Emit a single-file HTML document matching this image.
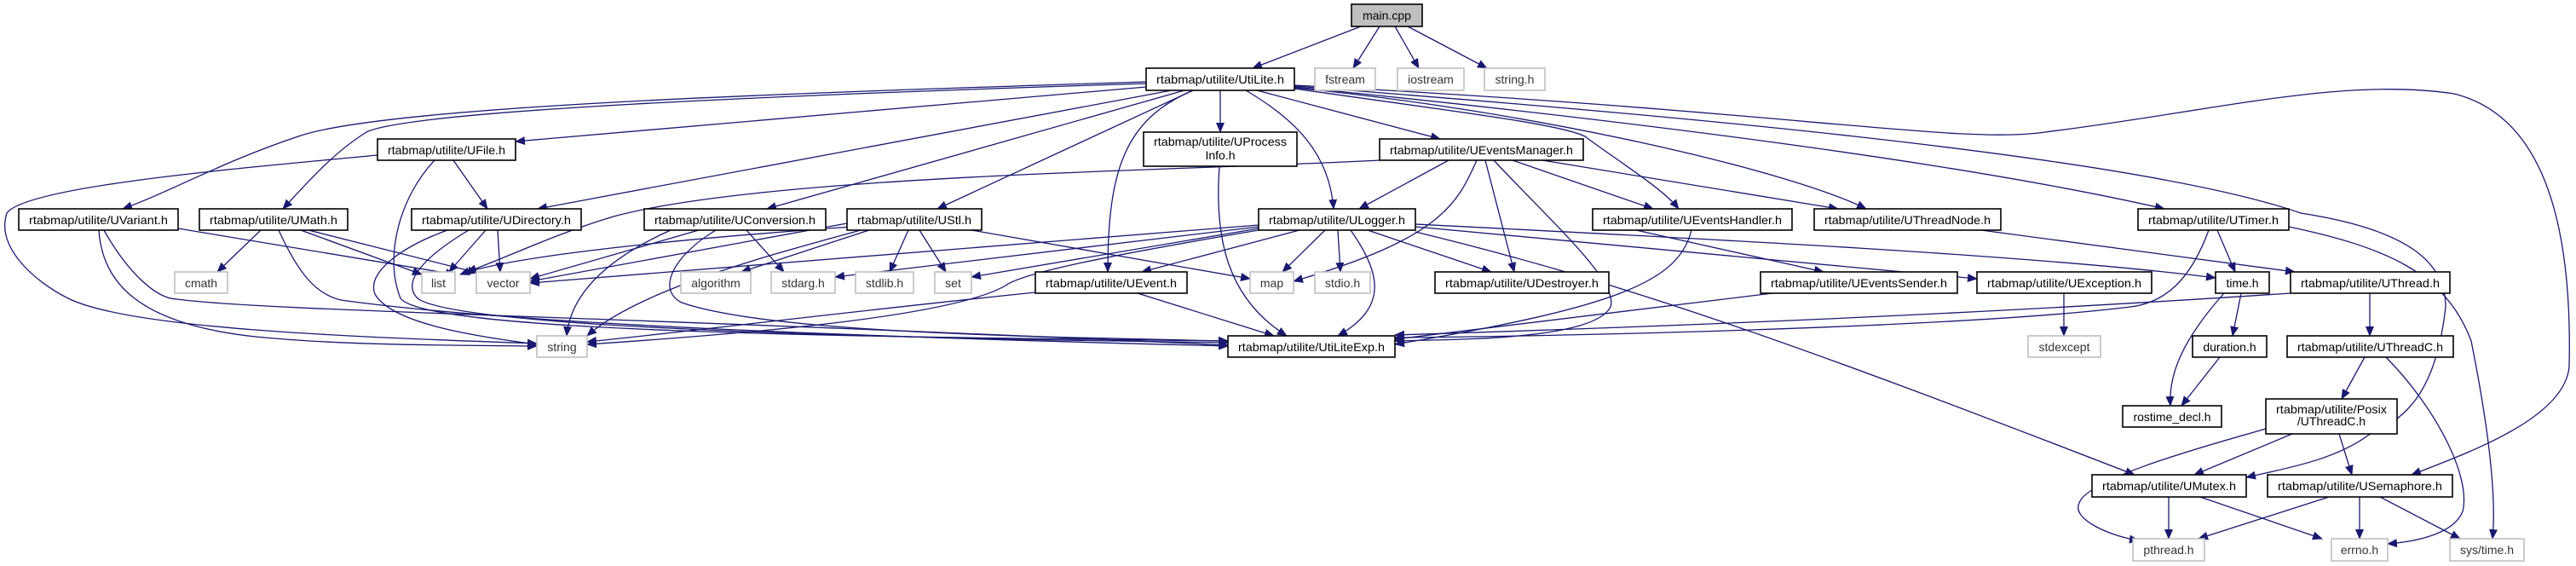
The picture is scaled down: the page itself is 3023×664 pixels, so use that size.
<!DOCTYPE html>
<html><head><meta charset="utf-8"><style>
html,body{margin:0;padding:0;background:#fff;}
svg{display:block;}
text{font-family:"Liberation Sans","DejaVu Sans",sans-serif;font-size:14px;text-anchor:middle;fill:#000;}
.g text{fill:#333;}
.e path{fill:none;stroke:#191970;stroke-width:1.3;marker-end:url(#a);}
.n rect{fill:#fff;stroke:#000;stroke-width:1.6;}
.g rect{fill:#fff;stroke:#bfbfbf;stroke-width:1.6;}
</style></head><body>
<svg width="3023" height="664" viewBox="0 0 3023 664" xmlns="http://www.w3.org/2000/svg">
<defs><marker id="a" markerWidth="12" markerHeight="10" refX="11" refY="5" orient="auto" markerUnits="userSpaceOnUse"><path d="M0,0 L12,5 L0,10 z" fill="#191970"/></marker></defs>
<g class="e">
<path d="M1597,31 L1470,80"/>
<path d="M1619,31 L1588,80"/>
<path d="M1637,31 L1665,80"/>
<path d="M1652,31 L1745,80"/>
<path d="M1345,96 C900,110 450,125 350,160 C260,190 200,225 144,245"/>
<path d="M1345,98 C900,112 480,130 430,155 C390,180 360,215 332,245"/>
<path d="M1345,102 L605,166"/>
<path d="M1375,106 L631,245"/>
<path d="M1390,106 L900,245"/>
<path d="M1400,106 L1100,245"/>
<path d="M1400,106 C1320,140 1300,200 1300,319"/>
<path d="M1432,106 L1432,155"/>
<path d="M1462,106 C1520,140 1560,180 1565,245"/>
<path d="M1475,106 L1690,163"/>
<path d="M1519,104 C1700,130 1830,145 1860,160 C1900,190 1950,220 1970,245"/>
<path d="M1519,103 C1800,130 2100,200 2190,245"/>
<path d="M1519,102 C1900,140 2300,190 2540,245"/>
<path d="M1519,101 C1900,130 2500,180 2700,250 C2830,270 2870,310 2870,360 C2860,450 2830,490 2780,510 C2740,540 2680,550 2636,560"/>
<path d="M1519,100 C2100,130 2300,170 2400,155 C2600,130 2750,90 2880,110 C3000,140 3018,300 3015,430 C3010,490 2900,530 2830,557"/>
<path d="M443,182 C250,200 30,220 8,250 C-5,290 40,330 80,350 C150,385 400,395 630,403"/>
<path d="M510,188 C470,230 450,300 470,350 C500,390 1000,395 1441,400"/>
<path d="M532,188 L572,245"/>
<path d="M209,268 L534,322"/>
<path d="M116,270 C120,330 160,380 300,395 C400,405 520,405 630,406"/>
<path d="M122,270 C150,320 180,345 200,350 C300,365 700,370 1441,405"/>
<path d="M306,270 L255,319"/>
<path d="M353,270 L495,322"/>
<path d="M362,270 L560,320"/>
<path d="M327,270 C350,320 370,345 400,352 C600,380 1000,395 1441,406"/>
<path d="M570,270 L527,319"/>
<path d="M584,270 L587,319"/>
<path d="M525,270 C470,290 430,320 440,345 C460,380 560,395 630,404"/>
<path d="M550,270 C500,300 470,330 490,350 C530,380 900,395 1441,402"/>
<path d="M787,270 C720,300 670,340 665,394"/>
<path d="M820,270 L622,327"/>
<path d="M876,270 L920,319"/>
<path d="M840,270 C790,300 770,340 800,355 C900,390 1200,395 1441,400"/>
<path d="M994,262 L622,330"/>
<path d="M1000,266 C800,280 600,300 540,322"/>
<path d="M1010,270 C900,300 750,340 689,394"/>
<path d="M1020,270 L870,319"/>
<path d="M1066,270 L1044,319"/>
<path d="M1079,270 L1110,319"/>
<path d="M1140,270 L1467,327"/>
<path d="M1477,264 L622,332"/>
<path d="M1477,268 L1140,325"/>
<path d="M1477,266 L980,325"/>
<path d="M1477,270 C1300,300 1200,320 1180,335 C1120,370 900,390 689,404"/>
<path d="M1525,270 L1340,319"/>
<path d="M1555,270 L1505,319"/>
<path d="M1570,270 L1573,319"/>
<path d="M1585,270 C1620,320 1630,360 1570,394"/>
<path d="M1605,270 L1750,319"/>
<path d="M1661,272 C1900,330 2100,400 2505,557"/>
<path d="M1661,263 C2000,280 2400,300 2600,326"/>
<path d="M1661,266 L2320,327"/>
<path d="M1215,343 C1000,365 800,390 689,401"/>
<path d="M1335,344 L1495,394"/>
<path d="M1431,195 C1425,280 1440,350 1510,394"/>
<path d="M1700,188 L1595,245"/>
<path d="M1619,188 C1400,200 900,205 720,254 C650,275 600,300 548,319"/>
<path d="M1733,188 C1710,240 1690,280 1518,330"/>
<path d="M1743,188 L1777,319"/>
<path d="M1753,188 C1820,260 1900,330 1890,360 C1870,400 1700,398 1637,400"/>
<path d="M1775,188 L1940,245"/>
<path d="M1810,188 L2157,245"/>
<path d="M1920,270 L2140,319"/>
<path d="M1985,270 C1970,330 1900,360 1637,404"/>
<path d="M2080,344 L1637,398"/>
<path d="M2325,270 L2693,319"/>
<path d="M2602,270 L2623,319"/>
<path d="M2592,270 C2570,330 2540,355 2500,360 C2300,385 1800,395 1637,396"/>
<path d="M2686,266 C2800,290 2870,320 2900,400 C2920,500 2930,580 2925,632"/>
<path d="M2688,344 C2300,370 1900,385 1637,393"/>
<path d="M2781,344 L2781,394"/>
<path d="M2422,344 L2422,394"/>
<path d="M2630,344 L2620,394"/>
<path d="M2610,344 C2560,400 2545,440 2547,476"/>
<path d="M2605,419 L2560,476"/>
<path d="M2775,419 L2748,468"/>
<path d="M2800,419 C2860,480 2900,560 2890,600 C2880,625 2840,635 2802,638"/>
<path d="M2659,503 C2600,520 2450,560 2440,590 C2430,610 2480,630 2510,634"/>
<path d="M2690,509 L2575,557"/>
<path d="M2745,509 L2760,557"/>
<path d="M2545,583 L2545,632"/>
<path d="M2582,583 L2725,632"/>
<path d="M2733,583 L2580,632"/>
<path d="M2769,583 L2769,632"/>
<path d="M2793,583 L2887,632"/>
</g>
<!-- nodes -->
<g class="n">
<rect x="1586" y="5" width="83" height="26" style="fill:#bfbfbf"/><text x="1627.5" y="23">main.cpp</text>
<rect x="1345" y="80" width="174" height="26"/><text x="1432" y="98" textLength="150" lengthAdjust="spacingAndGlyphs">rtabmap/utilite/UtiLite.h</text>
<rect x="443" y="163" width="162" height="25"/><text x="524" y="181" textLength="138" lengthAdjust="spacingAndGlyphs">rtabmap/utilite/UFile.h</text>
<rect x="1342" y="155" width="180" height="40"/><text x="1432" y="171" textLength="156" lengthAdjust="spacingAndGlyphs">rtabmap/utilite/UProcess</text><text x="1432" y="187">Info.h</text>
<rect x="1619" y="163" width="239" height="25"/><text x="1738.5" y="181" textLength="215" lengthAdjust="spacingAndGlyphs">rtabmap/utilite/UEventsManager.h</text>
<rect x="22" y="245" width="187" height="25"/><text x="115.5" y="263" textLength="163" lengthAdjust="spacingAndGlyphs">rtabmap/utilite/UVariant.h</text>
<rect x="234" y="245" width="174" height="25"/><text x="321" y="263" textLength="150" lengthAdjust="spacingAndGlyphs">rtabmap/utilite/UMath.h</text>
<rect x="483" y="245" width="199" height="25"/><text x="582.5" y="263" textLength="175" lengthAdjust="spacingAndGlyphs">rtabmap/utilite/UDirectory.h</text>
<rect x="756" y="245" width="213" height="25"/><text x="862.5" y="263" textLength="189" lengthAdjust="spacingAndGlyphs">rtabmap/utilite/UConversion.h</text>
<rect x="994" y="245" width="158" height="25"/><text x="1073" y="263" textLength="134" lengthAdjust="spacingAndGlyphs">rtabmap/utilite/UStl.h</text>
<rect x="1477" y="245" width="184" height="25"/><text x="1569" y="263" textLength="160" lengthAdjust="spacingAndGlyphs">rtabmap/utilite/ULogger.h</text>
<rect x="1869" y="245" width="234" height="25"/><text x="1986" y="263" textLength="210" lengthAdjust="spacingAndGlyphs">rtabmap/utilite/UEventsHandler.h</text>
<rect x="2129" y="245" width="219" height="25"/><text x="2238.5" y="263" textLength="195" lengthAdjust="spacingAndGlyphs">rtabmap/utilite/UThreadNode.h</text>
<rect x="2509" y="245" width="177" height="25"/><text x="2597.5" y="263" textLength="153" lengthAdjust="spacingAndGlyphs">rtabmap/utilite/UTimer.h</text>
<rect x="1215" y="319" width="178" height="25"/><text x="1304" y="337" textLength="154" lengthAdjust="spacingAndGlyphs">rtabmap/utilite/UEvent.h</text>
<rect x="1684" y="319" width="204" height="25"/><text x="1786" y="337" textLength="180" lengthAdjust="spacingAndGlyphs">rtabmap/utilite/UDestroyer.h</text>
<rect x="2066" y="319" width="231" height="25"/><text x="2181.5" y="337" textLength="207" lengthAdjust="spacingAndGlyphs">rtabmap/utilite/UEventsSender.h</text>
<rect x="2320" y="319" width="205" height="25"/><text x="2422.5" y="337" textLength="181" lengthAdjust="spacingAndGlyphs">rtabmap/utilite/UException.h</text>
<rect x="2600" y="319" width="63" height="25"/><text x="2631.5" y="337">time.h</text>
<rect x="2688" y="319" width="187" height="25"/><text x="2781.5" y="337" textLength="163" lengthAdjust="spacingAndGlyphs">rtabmap/utilite/UThread.h</text>
<rect x="1441" y="394" width="196" height="25"/><text x="1539" y="412" textLength="172" lengthAdjust="spacingAndGlyphs">rtabmap/utilite/UtiLiteExp.h</text>
<rect x="2573" y="394" width="87" height="25"/><text x="2616.5" y="412">duration.h</text>
<rect x="2684" y="394" width="195" height="25"/><text x="2781.5" y="412" textLength="171" lengthAdjust="spacingAndGlyphs">rtabmap/utilite/UThreadC.h</text>
<rect x="2491" y="476" width="116" height="25"/><text x="2549" y="494">rostime_decl.h</text>
<rect x="2659" y="468" width="154" height="41"/><text x="2736" y="485" textLength="130" lengthAdjust="spacingAndGlyphs">rtabmap/utilite/Posix</text><text x="2736" y="499">/UThreadC.h</text>
<rect x="2455" y="557" width="181" height="26"/><text x="2545.5" y="575" textLength="157" lengthAdjust="spacingAndGlyphs">rtabmap/utilite/UMutex.h</text>
<rect x="2661" y="557" width="217" height="26"/><text x="2769.5" y="575" textLength="193" lengthAdjust="spacingAndGlyphs">rtabmap/utilite/USemaphore.h</text>
</g>
<g class="g">
<rect x="1543" y="80" width="71" height="26"/><text x="1578.5" y="98">fstream</text>
<rect x="1640" y="80" width="78" height="26"/><text x="1679" y="98">iostream</text>
<rect x="1742" y="80" width="71" height="26"/><text x="1777.5" y="98">string.h</text>
<rect x="205" y="319" width="62" height="25"/><text x="236" y="337">cmath</text>
<rect x="495" y="319" width="39" height="25"/><text x="514.5" y="337">list</text>
<rect x="559" y="319" width="63" height="25"/><text x="590.5" y="337">vector</text>
<rect x="799" y="319" width="82" height="25"/><text x="840" y="337">algorithm</text>
<rect x="905" y="319" width="75" height="25"/><text x="942.5" y="337">stdarg.h</text>
<rect x="1004" y="319" width="68" height="25"/><text x="1038" y="337">stdlib.h</text>
<rect x="1097" y="319" width="43" height="25"/><text x="1118.5" y="337">set</text>
<rect x="1467" y="319" width="51" height="25"/><text x="1492.5" y="337">map</text>
<rect x="1543" y="319" width="65" height="25"/><text x="1575.5" y="337">stdio.h</text>
<rect x="630" y="394" width="59" height="25"/><text x="659.5" y="412">string</text>
<rect x="2380" y="394" width="85" height="25"/><text x="2422.5" y="412">stdexcept</text>
<rect x="2503" y="632" width="84" height="26"/><text x="2545" y="650">pthread.h</text>
<rect x="2736" y="632" width="66" height="26"/><text x="2769" y="650">errno.h</text>
<rect x="2875" y="632" width="87" height="26"/><text x="2918.5" y="650">sys/time.h</text>
</g>
</svg>
</body></html>
